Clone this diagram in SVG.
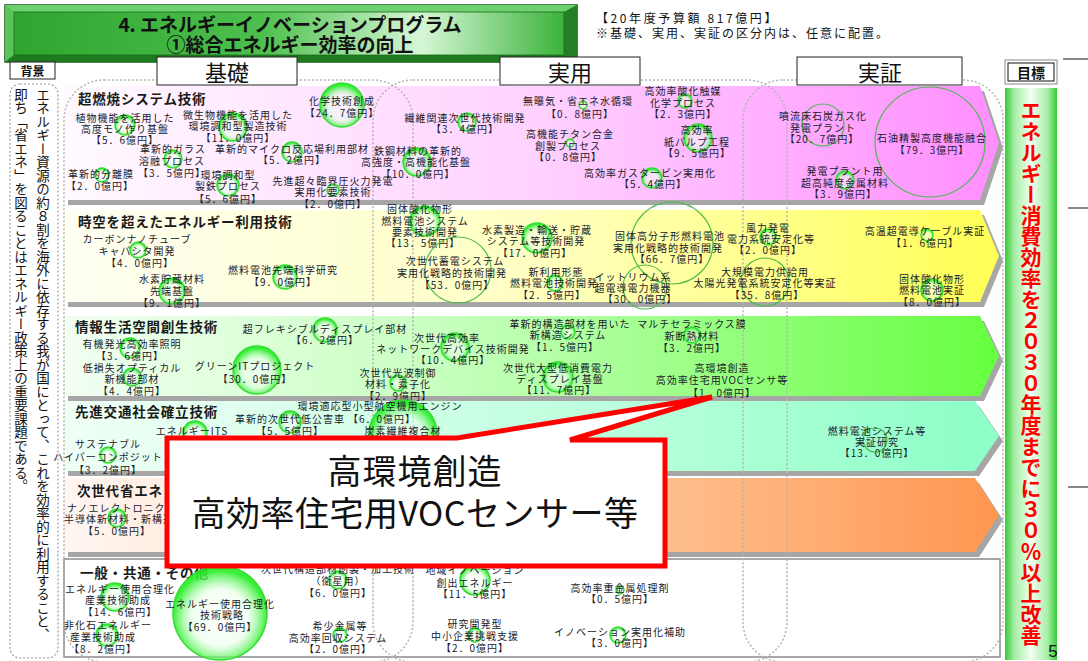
<svg xmlns="http://www.w3.org/2000/svg" width="1088" height="661" viewBox="0 0 1088 661">
<style>
.t{font-family:"Noto Sans CJK JP","Noto Sans CJK SC",sans-serif;font-size:10px;letter-spacing:1px;fill:#1a1a2a;text-anchor:middle;dominant-baseline:central}
.h{font-family:"Noto Sans CJK JP",sans-serif;font-size:13.5px;font-weight:bold;letter-spacing:0.8px;fill:#1a1a1a;dominant-baseline:central}
.c{fill:url(#rg);stroke:#33dd33;stroke-width:1.5}
.o{fill:none;stroke:#4cbb4c;stroke-width:1.2}
.col{fill:none;stroke:#b4b4b4;stroke-width:1.5;stroke-dasharray:2 2}
.sh{fill:#a6a6a6}
.lbl{font-family:"Noto Sans CJK JP",sans-serif;fill:#111;text-anchor:middle;dominant-baseline:central}
.box{fill:#fff;stroke:#222;stroke-width:1}
.vt{font-family:"Noto Sans CJK JP",sans-serif;writing-mode:vertical-rl}
</style>
<defs>
<radialGradient id="rg" cx="0.5" cy="0.55" r="0.5">
<stop offset="0" stop-color="#ffffff" stop-opacity="0.55"/>
<stop offset="0.6" stop-color="#e6ffe6" stop-opacity="0.55"/>
<stop offset="1" stop-color="#22ee22" stop-opacity="0.9"/>
</radialGradient>
<linearGradient id="tg" x1="0" x2="1" y1="0" y2="0">
<stop offset="0" stop-color="#2fa52f"/>
<stop offset="0.45" stop-color="#4cbf4c"/>
<stop offset="0.74" stop-color="#d6f7d6"/>
<stop offset="1" stop-color="#3bb33b"/>
</linearGradient>
<linearGradient id="g1" x1="0" x2="1"><stop offset="0" stop-color="#fffaff"/><stop offset="0.5" stop-color="#ffd2ff"/><stop offset="1" stop-color="#ff8eff"/></linearGradient>
<linearGradient id="g2" x1="0" x2="1"><stop offset="0" stop-color="#fffff4"/><stop offset="0.5" stop-color="#ffffc2"/><stop offset="1" stop-color="#ffff55"/></linearGradient>
<linearGradient id="g3" x1="0" x2="1"><stop offset="0" stop-color="#f2fff2"/><stop offset="0.4" stop-color="#c8ffc0"/><stop offset="1" stop-color="#66ff40"/></linearGradient>
<linearGradient id="g4" x1="0" x2="1"><stop offset="0" stop-color="#f0fff6"/><stop offset="0.5" stop-color="#c4ffe0"/><stop offset="1" stop-color="#8cffc8"/></linearGradient>
<linearGradient id="g5" x1="0" x2="1"><stop offset="0" stop-color="#fff6f2"/><stop offset="0.5" stop-color="#ffcfa8"/><stop offset="1" stop-color="#ff9650"/></linearGradient>
<linearGradient id="gb" x1="0" x2="1"><stop offset="0" stop-color="#33cc33"/><stop offset="0.18" stop-color="#a6eea6"/><stop offset="0.5" stop-color="#f2fff2"/><stop offset="0.82" stop-color="#a6eea6"/><stop offset="1" stop-color="#33cc33"/></linearGradient>
</defs>
<rect width="1088" height="661" fill="#fff"/>

<g id="title">
<rect x="5" y="5" width="572" height="57" fill="#2e9a2e" stroke="#0f560f" stroke-width="1.5"/>
<polygon points="5,5 577,5 564,12 14,12" fill="#6fd06f"/>
<polygon points="5,5 14,12 14,55 5,62" fill="#5ac45a"/>
<polygon points="5,62 14,55 564,55 577,62" fill="#1e7a1e"/>
<polygon points="577,5 577,62 564,55 564,12" fill="#237f23"/>
<rect x="14" y="12" width="550" height="43" fill="url(#tg)" stroke="#1a6a1a" stroke-width="0.8"/>
<text class="lbl" x="290" y="23" font-size="19" font-weight="bold">4. エネルギーイノベーションプログラム</text>
<text class="lbl" x="290" y="43" font-size="19" font-weight="bold">①総合エネルギー効率の向上</text>
</g>

<g id="notes">
<text x="596" y="17" font-family="Noto Sans CJK JP,sans-serif" font-size="12" letter-spacing="2.6" fill="#111" dominant-baseline="central">【20年度予算額 817億円】</text>
<text x="596" y="32" font-family="Noto Sans CJK JP,sans-serif" font-size="12" letter-spacing="2" fill="#111" dominant-baseline="central">※基礎、実用、実証の区分内は、任意に配置。</text>
</g>

<g id="margin-lines" stroke="#111" stroke-width="1">
<line x1="1063" y1="59" x2="1088" y2="59"/>
<line x1="1068" y1="208" x2="1088" y2="208"/>
<line x1="1068" y1="487" x2="1088" y2="487"/>
</g>

<g id="bands">
<polygon class="sh" points="68,91 984,91 1003,148 984,205 68,205"/>
<polygon points="64,86 980,86 999,143 980,200 64,200" fill="url(#g1)"/>
<polygon class="sh" points="68,215 984,215 1003,261 984,307 68,307"/>
<polygon points="64,210 980,210 999,256 980,302 64,302" fill="url(#g2)"/>
<polygon class="sh" points="68,321 984,321 1003,361 984,401 68,401"/>
<polygon points="64,316 980,316 999,356 980,396 64,396" fill="url(#g3)"/>
<polygon class="sh" points="68,406 979,406 1003,441 979,476 68,476"/>
<polygon points="64,401 975,401 999,436 975,471 64,471" fill="url(#g4)"/>
<polygon class="sh" points="68,483 979,483 1003,520 979,557 68,557"/>
<polygon points="64,478 975,478 999,515 975,552 64,552" fill="url(#g5)"/>
<rect x="64" y="559" width="936" height="98" fill="#fff" stroke="#8a8a8a" stroke-width="1.5"/>
</g>

<g id="columns">
<rect class="col" x="64" y="80" width="349" height="582" rx="40"/>
<rect class="col" x="373" y="80" width="414" height="582" rx="40"/>
<rect class="col" x="743" y="80" width="260" height="582" rx="40"/>
</g>

<g id="headers">
<rect class="box" x="157" y="57" width="140" height="28"/>
<text class="lbl" x="227" y="71" font-size="22">基礎</text>
<rect class="box" x="500" y="57" width="140" height="28"/>
<text class="lbl" x="570" y="71" font-size="22">実用</text>
<rect class="box" x="797" y="57" width="165" height="28"/>
<text class="lbl" x="880" y="71" font-size="22">実証</text>
</g>

<g id="haikei">
<rect class="box" x="10" y="62" width="45" height="17"/>
<text class="lbl" x="32.5" y="70.5" font-size="12" font-weight="bold">背景</text>
<rect x="10" y="84" width="48" height="574" rx="10" fill="none" stroke="#999" stroke-width="1.2" stroke-dasharray="2 2"/>
<text class="vt" x="43" y="88" font-size="13.5" fill="#111">エネルギー資源の約８割を海外に依存する我が国にとって、これを効率的に利用すること、</text>
<text class="vt" x="21" y="88" font-size="13.5" fill="#111">即ち「省エネ」を図ることはエネルギー政策上の重要課題である。</text>
</g>

<g id="mokuhyou">
<rect x="1005" y="60" width="52" height="24" fill="#fff" stroke="#888" stroke-width="1"/>
<rect x="1008" y="63" width="46" height="18" fill="#fff" stroke="#111" stroke-width="1"/>
<text class="lbl" x="1031" y="72" font-size="14" font-weight="bold">目標</text>
<rect x="1005" y="88" width="52" height="572" fill="url(#gb)"/>
<text class="vt" x="1031" y="100" font-size="21" font-weight="bold" fill="#ff0000">エネルギー消費効率を２０３０年度までに３０％以上改善</text>
</g>

<g id="row-headings">
<text class="h" x="78" y="98">超燃焼システム技術</text>
<text class="h" x="78" y="221">時空を超えたエネルギー利用技術</text>
<text class="h" x="75" y="326">情報生活空間創生技術</text>
<text class="h" x="75" y="411">先進交通社会確立技術</text>
<text class="h" x="77" y="490">次世代省エネ</text>
<text class="h" x="80" y="572">一般・共通・その他</text>
</g>

<g id="n1"><circle class="c" cx="125" cy="125" r="10"/><text class="t"><tspan x="125" y="117">植物機能を活用した</tspan><tspan x="125" y="128">高度モノ作り基盤</tspan><tspan x="125" y="139">【5．6億円】</tspan></text></g>
<g id="n2"><circle class="c" cx="233" cy="127" r="14"/><text class="t"><tspan x="238" y="114">微生物機能を活用した</tspan><tspan x="238" y="125">環境調和型製造技術</tspan><tspan x="238" y="137">【11．0億円】</tspan></text></g>
<g id="n3"><circle class="c" cx="342" cy="105" r="22"/><text class="t"><tspan x="342" y="100">化学技術創成</tspan><tspan x="342" y="112">【24．7億円】</tspan></text></g>
<g id="n4"><circle class="c" cx="173" cy="159" r="9"/><text class="t"><tspan x="173" y="148">革新的ガラス</tspan><tspan x="172" y="160">溶融プロセス</tspan><tspan x="172" y="172">【3．5億円】</tspan></text></g>
<g id="n5"><circle class="c" cx="292" cy="152" r="10"/><text class="t"><tspan x="292" y="148">革新的マイクロ反応場利用部材</tspan><tspan x="292" y="159">【5．2億円】</tspan></text></g>
<g id="n6"><circle class="c" cx="102" cy="175" r="7"/><text class="t"><tspan x="101" y="173">革新的分離膜</tspan><tspan x="100" y="185">【2．0億円】</tspan></text></g>
<g id="n7"><circle class="c" cx="228" cy="185" r="11"/><text class="t"><tspan x="228" y="174">環境調和型</tspan><tspan x="228" y="185">製鉄プロセス</tspan><tspan x="228" y="198">【5．6億円】</tspan></text></g>
<g id="n8"><circle class="c" cx="333" cy="190" r="6"/><text class="t"><tspan x="333" y="180">先進超々臨界圧火力発電</tspan><tspan x="333" y="191">実用化要素技術</tspan><tspan x="333" y="203">【2．0億円】</tspan></text></g>
<g id="n9"><circle class="c" cx="467" cy="122" r="9"/><text class="t"><tspan x="465" y="117">繊維関連次世代技術開発</tspan><tspan x="465" y="128">【3．4億円】</tspan></text></g>
<g id="n10"><circle class="c" cx="417" cy="162" r="14"/><text class="t"><tspan x="418" y="150">鉄鋼材料の革新的</tspan><tspan x="416" y="161">高強度・高機能化基盤</tspan><tspan x="418" y="173">【10．0億円】</tspan></text></g>
<g id="n11"><circle class="c" cx="583" cy="105" r="4"/><text class="t"><tspan x="578" y="100">無曝気・省エネ水循環</tspan><tspan x="580" y="113">【0．8億円】</tspan></text></g>
<g id="n12"><circle class="c" cx="685" cy="101" r="7"/><text class="t"><tspan x="683" y="90">高効率酸化触媒</tspan><tspan x="683" y="102">化学プロセス</tspan><tspan x="683" y="113">【2．3億円】</tspan></text></g>
<g id="n13"><circle class="c" cx="570" cy="143" r="4"/><text class="t"><tspan x="570" y="133">高機能チタン合金</tspan><tspan x="568" y="145">創製プロセス</tspan><tspan x="568" y="156">【0．8億円】</tspan></text></g>
<g id="n14"><circle class="c" cx="698" cy="138" r="14"/><text class="t"><tspan x="697" y="129">高効率</tspan><tspan x="697" y="141">紙パルプ工程</tspan><tspan x="697" y="152">【9．5億円】</tspan></text></g>
<g id="n15"><circle class="c" cx="652" cy="178" r="10"/><text class="t"><tspan x="650" y="172">高効率ガスタービン実用化</tspan><tspan x="653" y="183">【5．4億円】</tspan></text></g>
<g id="n16"><circle class="o" cx="823" cy="125" r="21"/><text class="t"><tspan x="823" y="115">噴流床石炭ガス化</tspan><tspan x="823" y="127">発電プラント</tspan><tspan x="822" y="138">【20．7億円】</tspan></text></g>
<g id="n17"><circle class="o" cx="930" cy="142" r="55"/><text class="t"><tspan x="932" y="137">石油精製高度機能融合</tspan><tspan x="932" y="149">【79．3億円】</tspan></text></g>
<g id="n18"><circle class="c" cx="845" cy="180" r="9"/><text class="t"><tspan x="845" y="170">発電プラント用</tspan><tspan x="845" y="182">超高純度金属材料</tspan><tspan x="843" y="193">【3．9億円】</tspan></text></g>

<g id="n19"><circle class="c" cx="138" cy="250" r="8"/><text class="t"><tspan x="137" y="238">カーボンナノチューブ</tspan><tspan x="137" y="250">キャパシタ開発</tspan><tspan x="140" y="262">【4．0億円】</tspan></text></g>
<g id="n20"><circle class="c" cx="172" cy="291" r="13"/><text class="t"><tspan x="172" y="278">水素貯蔵材料</tspan><tspan x="172" y="290">先端基盤</tspan><tspan x="172" y="302">【9．1億円】</tspan></text></g>
<g id="n21"><circle class="c" cx="285" cy="277" r="12"/><text class="t"><tspan x="283" y="269">燃料電池先端科学研究</tspan><tspan x="283" y="281">【9．0億円】</tspan></text></g>
<g id="n22"><circle class="c" cx="425" cy="221" r="15"/><text class="t"><tspan x="420" y="208">固体酸化物形</tspan><tspan x="425" y="220">燃料電池システム</tspan><tspan x="425" y="231">要素技術開発</tspan><tspan x="423" y="242">【13．5億円】</tspan></text></g>
<g id="n23"><circle class="o" cx="458" cy="270" r="33"/><text class="t"><tspan x="455" y="260">次世代蓄電システム</tspan><tspan x="452" y="272">実用化戦略的技術開発</tspan><tspan x="457" y="284">【53．0億円】</tspan></text></g>
<g id="n24"><circle class="c" cx="537" cy="238" r="15"/><text class="t"><tspan x="537" y="229">水素製造・輸送・貯蔵</tspan><tspan x="536" y="240">システム等技術開発</tspan><tspan x="535" y="252">【17．0億円】</tspan></text></g>
<g id="n25"><circle class="c" cx="555" cy="283" r="8"/><text class="t"><tspan x="556" y="271">新利用形態</tspan><tspan x="554" y="282">燃料電池技術開発</tspan><tspan x="552" y="294">【2．5億円】</tspan></text></g>
<g id="n26"><circle class="o" cx="672" cy="243" r="41"/><text class="t"><tspan x="670" y="235">固体高分子形燃料電池</tspan><tspan x="668" y="247">実用化戦略的技術開発</tspan><tspan x="672" y="258">【66．7億円】</tspan></text></g>
<g id="n27"><circle class="o" cx="645" cy="287" r="22"/><text class="t"><tspan x="633" y="276">イットリウム系</tspan><tspan x="633" y="287">超電導電力機器</tspan><tspan x="640" y="298">【30．0億円】</tspan></text></g>
<g id="n28"><circle class="c" cx="768" cy="237" r="8"/><text class="t"><tspan x="768" y="227">風力発電</tspan><tspan x="771" y="238">電力系統安定化等</tspan><tspan x="768" y="249">【2．0億円】</tspan></text></g>
<g id="n29"><circle class="o" cx="765" cy="282" r="24"/><text class="t"><tspan x="765" y="271">大規模電力供給用</tspan><tspan x="765" y="282">太陽光発電系統安定化等実証</tspan><tspan x="767" y="294">【35．8億円】</tspan></text></g>
<g id="n30"><circle class="c" cx="927" cy="235" r="6"/><text class="t"><tspan x="925" y="230">高温超電導ケーブル実証</tspan><tspan x="925" y="242">【1．6億円】</tspan></text></g>
<g id="n31"><circle class="c" cx="932" cy="290" r="11"/><text class="t"><tspan x="932" y="278">固体酸化物形</tspan><tspan x="932" y="289">燃料電池実証</tspan><tspan x="932" y="301">【8．0億円】</tspan></text></g>

<g id="n32"><circle class="c" cx="130" cy="348" r="10"/><text class="t"><tspan x="132" y="343">有機発光高効率照明</tspan><tspan x="130" y="355">【3．6億円】</tspan></text></g>
<g id="n33"><circle class="c" cx="132" cy="377" r="9"/><text class="t"><tspan x="132" y="367">低損失オプティカル</tspan><tspan x="132" y="378">新機能部材</tspan><tspan x="132" y="390">【4．4億円】</tspan></text></g>
<g id="n34"><circle class="c" cx="325" cy="330" r="12"/><text class="t"><tspan x="325" y="328">超フレキシブルディスプレイ部材</tspan><tspan x="325" y="339">【6．2億円】</tspan></text></g>
<g id="n35"><circle class="c" cx="257" cy="370" r="24"/><text class="t"><tspan x="255" y="365">グリーンITプロジェクト</tspan><tspan x="255" y="378">【30．0億円】</tspan></text></g>
<g id="n36"><circle class="c" cx="455" cy="347" r="14"/><text class="t"><tspan x="447" y="337">次世代高効率</tspan><tspan x="453" y="348">ネットワークデバイス技術開発</tspan><tspan x="453" y="359">【10．4億円】</tspan></text></g>
<g id="n37"><circle class="c" cx="398" cy="383" r="8"/><text class="t"><tspan x="398" y="372">次世代光波制御</tspan><tspan x="398" y="383">材料・素子化</tspan><tspan x="398" y="395">【2．9億円】</tspan></text></g>
<g id="n38"><circle class="c" cx="568" cy="332" r="7"/><text class="t"><tspan x="570" y="323">革新的構造部材を用いた</tspan><tspan x="568" y="334">新構造システム</tspan><tspan x="565" y="346">【1．5億円】</tspan></text></g>
<g id="n39"><circle class="c" cx="558" cy="377" r="15"/><text class="t"><tspan x="558" y="367">次世代大型低消費電力</tspan><tspan x="560" y="378">ディスプレイ基盤</tspan><tspan x="559" y="389">【11．7億円】</tspan></text></g>
<g id="n40"><circle class="c" cx="692" cy="335" r="8"/><text class="t"><tspan x="692" y="323">マルチセラミックス膜</tspan><tspan x="692" y="335">新断熱材料</tspan><tspan x="692" y="347">【3．2億円】</tspan></text></g>
<g id="n41"><text class="t"><tspan x="722" y="367">高環境創造</tspan><tspan x="722" y="379">高効率住宅用VOCセンサ等</tspan><tspan x="722" y="392">【1．0億円】</tspan></text></g>

<g id="n42"><circle class="c" cx="403" cy="434" r="34"/><text class="t"><tspan x="380" y="405">環境適応型小型航空機用エンジン</tspan><tspan x="382" y="418">【6．0億円】</tspan><tspan x="403" y="430">炭素繊維複合材</tspan></text></g>
<g id="n43"><circle class="c" cx="290" cy="422" r="11"/><text class="t"><tspan x="290" y="418">革新的次世代低公害車</tspan><tspan x="290" y="430">【5．5億円】</tspan></text></g>
<g id="n44"><circle class="c" cx="195" cy="433" r="12"/><text class="t"><tspan x="192" y="430">エネルギーITS</tspan></text></g>
<g id="n45"><circle class="c" cx="108" cy="455" r="8"/><text class="t"><tspan x="108" y="443">サステナブル</tspan><tspan x="108" y="456">ハイパーコンポジット</tspan><tspan x="108" y="469">【3．2億円】</tspan></text></g>
<g id="n46"><circle class="o" cx="875" cy="440" r="12"/><text class="t"><tspan x="877" y="430">燃料電池システム等</tspan><tspan x="877" y="441">実証研究</tspan><tspan x="877" y="452">【13．0億円】</tspan></text></g>

<g id="n47"><circle class="c" cx="117" cy="518" r="9"/><text class="t" style="text-anchor:start"><tspan x="67" y="507">ナノエレクトロニクス</tspan><tspan x="64" y="518">半導体新材料・新構造</tspan></text><text class="t"><tspan x="117" y="530">【5．0億円】</tspan></text></g>

<g id="n48"><circle class="c" cx="115" cy="597" r="14"/><text class="t"><tspan x="120" y="588">エネルギー使用合理化</tspan><tspan x="118" y="599">産業技術助成</tspan><tspan x="120" y="611">【14．6億円】</tspan></text></g>
<g id="n49"><circle class="c" cx="107" cy="635" r="11"/><text class="t"><tspan x="108" y="624">非化石エネルギー</tspan><tspan x="103" y="636">産業技術助成</tspan><tspan x="103" y="648">【8．2億円】</tspan></text></g>
<g id="n50"><circle class="c" cx="220" cy="613" r="47"/><text class="t"><tspan x="220" y="603">エネルギー使用合理化</tspan><tspan x="222" y="614">技術戦略</tspan><tspan x="220" y="626">【69．0億円】</tspan></text></g>
<g id="n51"><circle class="c" cx="338" cy="580" r="9"/><text class="t"><tspan x="338" y="568">次世代構造部材創製・加工技術</tspan><tspan x="338" y="580">（衛星用）</tspan><tspan x="338" y="592">【6．0億円】</tspan></text></g>
<g id="n52"><circle class="c" cx="340" cy="635" r="7"/><text class="t"><tspan x="340" y="625">希少金属等</tspan><tspan x="338" y="637">高効率回収システム</tspan><tspan x="338" y="648">【2．0億円】</tspan></text></g>
<g id="n53"><circle class="c" cx="475" cy="580" r="15"/><text class="t"><tspan x="475" y="569">地域イノベーション</tspan><tspan x="475" y="582">創出エネルギー</tspan><tspan x="475" y="593">【11．5億円】</tspan></text></g>
<g id="n54"><circle class="c" cx="475" cy="635" r="7"/><text class="t"><tspan x="475" y="623">研究開発型</tspan><tspan x="475" y="635">中小企業挑戦支援</tspan><tspan x="475" y="647">【2．0億円】</tspan></text></g>
<g id="n55"><circle class="c" cx="620" cy="590" r="4"/><text class="t"><tspan x="620" y="587">高効率重金属処理剤</tspan><tspan x="620" y="598">【0．5億円】</tspan></text></g>
<g id="n56"><circle class="c" cx="618" cy="635" r="8"/><text class="t"><tspan x="620" y="631">イノベーション実用化補助</tspan><tspan x="620" y="642">【3．0億円】</tspan></text></g>

<g id="callout">
<polygon points="167,438 457,438 712,397 570,440 665,440 665,566 167,566" fill="#fff" stroke="#ff0000" stroke-width="5" stroke-linejoin="miter"/>
<text class="lbl" x="415" y="469" font-size="34" letter-spacing="1">高環境創造</text>
<text class="lbl" x="415" y="511" font-size="34" letter-spacing="0.5">高効率住宅用VOCセンサー等</text>
</g>

<text x="1053" y="651" font-family="Liberation Sans,sans-serif" font-size="17" fill="#111" text-anchor="middle" dominant-baseline="central">5</text>
</svg>
